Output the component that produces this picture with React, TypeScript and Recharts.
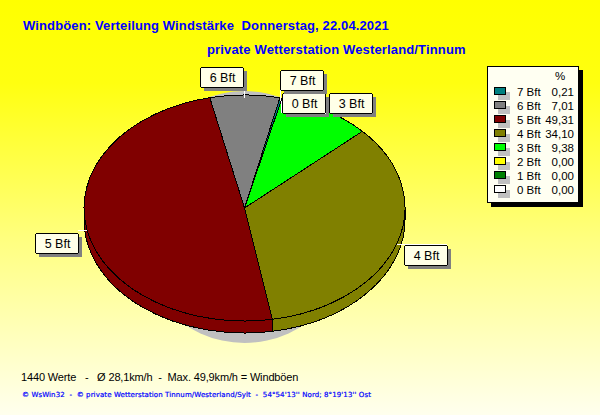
import React from 'react';
import { PieChart, Pie, Legend } from 'recharts';

const names = ['0 Bft', '1 Bft', '2 Bft', '3 Bft', '4 Bft', '5 Bft', '6 Bft', '7 Bft'];
const values = [0, 0, 0, 9.38, 34.1, 49.31, 7.01, 0.21];
const percentLabels = ['0,00', '0,00', '0,00', '9,38', '34,10', '49,31', '7,01', '0,21'];
const colors = ['#ffffff', '#008000', '#ffff00', '#00ff00', '#808000', '#800000', '#808080', '#008080'];
const hiddenLabels = ['1 Bft', '2 Bft'];

const data = names.map((name, i) => ({ name, value: values[i], fill: colors[i], pct: percentLabels[i] }));

const W = 600, H = 415;
const CX = 244.5, CY = 208, R = 160.5, FLAT = 113 / 160.5, DEPTH = 12;
const FONT = '"Liberation Sans", Arial, sans-serif';
const rad = (a: number) => (a * Math.PI) / 180;
const px = (a: number, r = R) => CX + r * Math.cos(rad(a));
const py = (a: number, r = R, d = 0) => CY - r * FLAT * Math.sin(rad(a)) + d;

function FaceShape(p: any) {
  const s = p.startAngle, e = p.endAngle;
  if (Math.abs(s - e) < 0.001) return <g />;
  const large = Math.abs(s - e) > 180 ? 1 : 0;
  const d = `M${CX},${CY}L${px(s)},${py(s)}A${R},${R * FLAT} 0 ${large} 1 ${px(e)},${py(e)}Z`;
  return <path d={d} fill={p.fill} stroke="#000" strokeWidth={1} shapeRendering="crispEdges" />;
}

function SideShape(p: any) {
  const s = Math.min(p.startAngle, 0), e = Math.max(p.endAngle, -180);
  if (s - e < 0.001) return <g />;
  const rx = R, ry = R * FLAT;
  const d = `M${px(s)},${py(s)}A${rx},${ry} 0 0 1 ${px(e)},${py(e)}L${px(e)},${py(e, R, DEPTH)}A${rx},${ry} 0 0 0 ${px(s)},${py(s, R, DEPTH)}Z`;
  return <path d={d} fill={p.fill} stroke="#000" strokeWidth={1} shapeRendering="crispEdges" />;
}

const labelNudge: Record<string, [number, number]> = {
  '0 Bft': [0, 15],
  '3 Bft': [3, 2],
  '4 Bft': [7, 1],
  '5 Bft': [-9, 3],
  '6 Bft': [-45, -8],
  '7 Bft': [-1, -8],
};

function PieLabel(p: any) {
  if (hiddenLabels.includes(p.name)) return null;
  const a = p.midAngle;
  const ax = px(a), ay = py(a);
  const right = Math.cos(rad(a)) >= 0;
  const up = Math.sin(rad(a)) >= 0;
  const [nx, ny] = labelNudge[p.name] ?? [0, 0];
  const bw = 43, bh = 20;
  const x = Math.round((right ? ax : ax - bw) + nx);
  const y = Math.round((up ? ay - bh : ay) + ny);
  return (
    <g shapeRendering="crispEdges">
      <line x1={ax} y1={ay + (up ? 3 : 0)} x2={up ? ax : x + bw} y2={up ? y + bh : ay} stroke="#fff" />
      <rect x={x + 4} y={y + 4} width={bw} height={bh} fill="#808080" />
      <rect x={x + 0.5} y={y + 0.5} width={bw} height={bh} rx={2} fill="#ffffe8" stroke="#000" />
      <text x={x + bw / 2 + 1} y={y + 15} textAnchor="middle" fontFamily={FONT} fontSize={12.5} fill="#000" shapeRendering="auto">
        {p.name}
      </text>
    </g>
  );
}

function LegendBox() {
  const rows = data.slice().reverse();
  return (
    <div style={{ position: 'relative', width: 90, height: 135, background: '#fffff2', border: '1px solid #000', boxShadow: '4px 4px 0 #000', fontFamily: FONT, fontSize: 11.5, color: '#000' }}>
      <div style={{ position: 'absolute', left: 67, top: 2, lineHeight: '14px' }}>%</div>
      {rows.map((r, i) => (
        <React.Fragment key={r.name}>
          <div style={{ position: 'absolute', left: 10, top: 25 + i * 14, width: 12, height: 8, background: '#c0c0c0' }} />
          <div style={{ position: 'absolute', left: 6, top: 20 + i * 14, width: 10, height: 6, background: r.fill, border: '1px solid #000' }} />
          <div style={{ position: 'absolute', left: 29, top: 18 + i * 14, lineHeight: '14px', whiteSpace: 'pre' }}>{r.name}</div>
          <div style={{ position: 'absolute', right: 4, top: 18 + i * 14, lineHeight: '14px' }}>{r.pct}</div>
        </React.Fragment>
      ))}
    </div>
  );
}

export default function App() {
  return (
    <div style={{ position: 'absolute', left: 0, top: 0, width: W, height: H, background: 'linear-gradient(180deg,#ffff00 0%,#ffff10 20%,#ffff80 58%,#ffffee 100%)' }}>
      <PieChart width={W} height={H} margin={{ top: 0, right: 0, bottom: 0, left: 0 }}>
        <ellipse cx={CX} cy={217} rx={115} ry={126} fill="#c0c0c0" />
        <Pie data={data} dataKey="value" nameKey="name" cx={CX} cy={CY} outerRadius={R} startAngle={76.5} endAngle={-283.5}
          shape={SideShape} legendType="none" isAnimationActive={false} label={false} labelLine={false} />
        <Pie data={data} dataKey="value" nameKey="name" cx={CX} cy={CY} outerRadius={R} startAngle={76.5} endAngle={-283.5}
          shape={FaceShape} isAnimationActive={false} label={PieLabel} labelLine={false} />
        <Legend content={<LegendBox />} wrapperStyle={{ position: 'absolute', left: 487, top: 66, width: 92, height: 137, bottom: 'auto' }} />
        <text x={23} y={30} fontFamily={FONT} fontWeight="bold" fontSize={13} letterSpacing={0.13} fill="#0000ff" style={{ whiteSpace: 'pre' }}>Windböen: Verteilung Windstärke  Donnerstag, 22.04.2021</text>
        <text x={207} y={54} fontFamily={FONT} fontWeight="bold" fontSize={13} letterSpacing={0.15} fill="#0000ff">private Wetterstation Westerland/Tinnum</text>
        <text x={21} y={381} fontFamily={FONT} fontSize={11} letterSpacing={-0.15} fill="#000" style={{ whiteSpace: 'pre' }}>1440 Werte   -   Ø 28,1km/h  -  Max. 49,9km/h = Windböen</text>
        <text x={22} y={397} fontFamily="DejaVu Sans" fontSize={7} letterSpacing={0.1} stroke="#0000ff" strokeWidth={0.2} fill="#0000ff" style={{ whiteSpace: 'pre' }}>© WsWin32  -  © private Wetterstation Tinnum/Westerland/Sylt  -  54°54'13'' Nord; 8°19'13'' Ost</text>
      </PieChart>
    </div>
  );
}
